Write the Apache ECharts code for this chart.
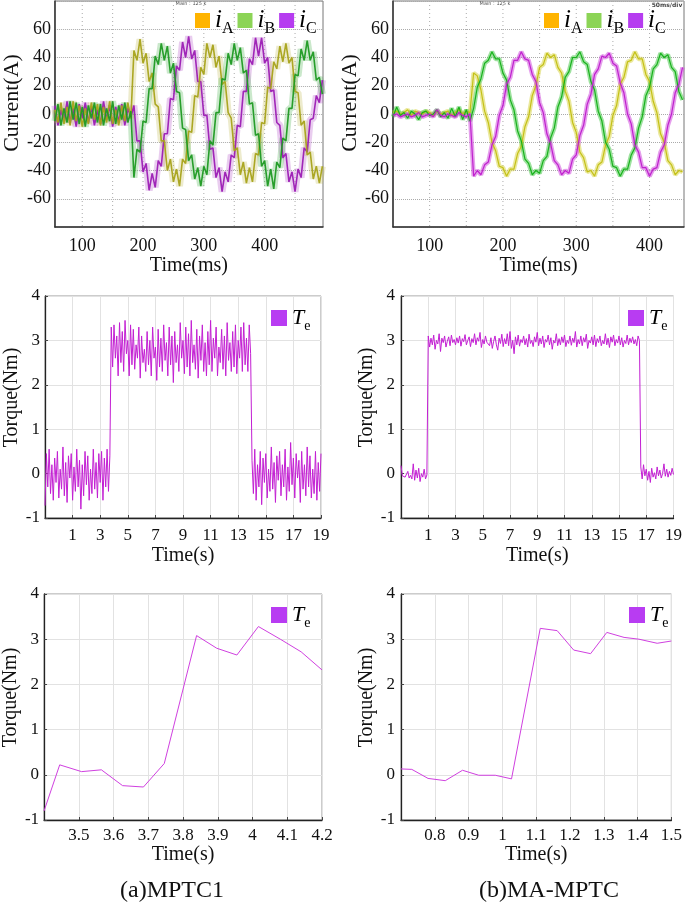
<!DOCTYPE html>
<html><head><meta charset="utf-8">
<script src="https://cdn.jsdelivr.net/npm/echarts@6/dist/echarts.min.js"></script>
<style>html,body{margin:0;padding:0;background:#fff}#c{width:685px;height:903px}</style>
</head><body><div id="c"></div>
<script>
const FONT = '"Liberation Serif", "Times New Roman", serif';

// ---------- (a) MPTC1 phase currents, sampled every 5 ms from 55 ms ----------
const timeStart1 = 55, timeStep1 = 5;
const iA1 = [3,-6,8,-7,5,-8,9,-5,6,-9,4,-7,8,-4,7,-8,5,-6,9,-7,3,-8,6,-5,8,-3,
  45,38,53,36,43,23,29,7,5,-19,-19,-40,-32,-48,-39,-51,-32,-35,-12,-13,13,12,33,28,50,40,49,33,41,21,
  23,1,-3,-26,-24,-43,-34,-49,-38,-48,-28,-29,-6,-7,19,18,37,32,48,37,50,36,40,16,15,-8,-5,-29,-27,-46,-37,-49,-37];
const iB1 = [-5,7,-8,4,-6,9,-4,8,-7,5,-9,6,-3,8,-6,7,-8,4,-5,9,-7,6,-4,8,-6,2,
  -45,-25,-27,-5,-6,18,18,41,35,50,38,48,29,36,16,15,-10,-11,-33,-29,-46,-38,-51,-37,-43,-19,-22,1,1,25,
  24,43,35,50,38,47,29,31,7,8,-15,-14,-37,-33,-51,-39,-53,-34,-38,-17,-19,4,4,28,27,46,38,52,38,44,24,26,14];
const iC1 = [6,-8,3,-5,9,-6,4,-9,7,-3,8,-6,5,-8,3,-7,9,-4,6,-9,5,-6,7,-8,4,-2,
  6,-19,-19,-41,-35,-54,-42,-52,-33,-37,-14,-14,11,10,34,31,51,40,55,39,45,23,23,-1,-1,-25,-24,-45,-38,-55,
  -41,-48,-29,-31,-8,-9,16,16,39,35,54,41,54,36,40,16,17,-6,-8,-31,-28,-48,-41,-55,-39,-45,-24,-27,-4,-3,13,8,24];

// ---------- (b) MA-MPTC phase currents, sampled every 5 ms from 50 ms ----------
const timeStart2 = 50, timeStep2 = 5;
const iA2 = [1,2,0,1,3,-1,2,1,0,2,1,-1,2,0,1,2,-1,1,3,0,2,1,
  29,27,17,2,-6,-20,-26,-37,-38,-44,-39,-39,-28,-23,-9,-2,13,20,33,35,43,40,42,33,29,16,9,-6,-13,-27,
  -31,-41,-40,-44,-36,-34,-22,-16,-1,6,21,26,37,38,44,39,39,28,23,9,1,-14,-20,-33,-36,-43,-40,-41];
const iB2 = [-2,5,-1,1,-3,2,0,-4,1,2,-1,0,3,-2,1,-3,4,-2,5,-4,3,-5,
  4,19,25,36,38,44,39,39,29,24,10,3,-12,-19,-32,-35,-43,-40,-42,-33,-30,-17,-10,5,12,26,30,40,40,44,
  37,35,23,17,2,-5,-20,-25,-37,-38,-44,-39,-39,-29,-24,-10,-2,13,19,32,35,43,40,42,33,30,16,10];
const iC2 = [-1,0,-2,-1,0,-2,-1,1,-2,-1,0,-2,3,-1,-2,0,-1,-2,1,-1,-2,0,
  -44,-40,-43,-36,-34,-22,-16,-1,6,21,26,38,38,44,39,38,28,23,8,1,-14,-21,-33,-36,-43,-40,-42,-32,-29,-15,
  -8,7,14,28,32,41,40,43,36,34,22,15,0,-7,-22,-27,-38,-38,-44,-39,-38,-27,-22,-8,0,15,21,33];

// ---------- torque, long run, sampled every 0.1 s from -1 s ----------
const timeStart3 = -1, timeStep3 = 0.1;
const te3 = [-0.72,0.45,-0.3,0.55,-0.45,0.2,-0.6,0.35,-0.2,0.5,-0.55,0.1,-0.35,0.6,-0.5,0.25,-0.65,0.4,-0.1,0.45,
  -0.6,0.15,-0.4,0.55,-0.3,0.3,-0.8,0.2,-0.5,0.5,-0.25,0.4,-0.6,0.1,-0.45,0.55,-0.35,0.25,-0.55,0.45,
  -0.2,0.5,-0.6,0.35,-0.3,0.55,-0.4,0.4,
  3.3,2.4,3.35,2.6,3.1,2.2,3.4,2.5,3.2,2.3,3.45,2.7,3.0,2.2,3.35,2.45,3.25,2.35,2.9,2.6,
  3.3,2.15,3.1,2.5,2.8,2.3,3.2,2.45,3.0,2.2,3.3,2.6,2.85,2.1,3.25,2.4,3.05,2.3,3.35,2.55,
  2.95,2.2,3.3,2.45,3.1,2.05,3.2,2.5,2.9,2.3,3.4,2.6,3.0,2.25,3.3,2.4,3.15,2.2,3.45,2.5,
  2.9,2.35,3.25,2.15,3.1,2.55,3.35,2.3,2.95,2.2,3.2,2.45,3.45,2.3,3.05,2.6,3.3,2.2,2.85,2.5,
  3.25,2.35,3.1,2.2,3.4,2.55,2.95,2.3,3.2,2.4,3.35,2.25,3.0,2.6,3.3,2.3,3.4,2.45,3.05,2.3,3.35,2.7,
  0.3,-0.45,0.55,-0.6,0.2,-0.3,0.5,-0.7,0.35,-0.2,0.45,-0.55,0.1,-0.4,0.6,-0.35,0.25,-0.65,0.4,-0.15,
  0.5,-0.5,0.2,-0.3,0.55,-0.6,0.15,-0.4,0.7,-0.25,0.35,-0.55,0.45,-0.1,0.3,-0.65,0.5,-0.35,0.2,-0.5,
  0.6,-0.3,0.4,-0.55,0.1,-0.45,0.5,-0.6,0.25,-0.4,0.45];
const te4 = [0.18,-0.05,-0.02,-0.08,-0.06,0.05,-0.1,-0.04,-0.12,0.22,-0.15,0.08,-0.1,0.12,-0.18,0.0,-0.08,0.1,-0.12,-0.03,
  3.1,2.85,3.05,2.9,3.12,2.8,3.0,2.92,3.15,2.75,3.05,2.95,3.1,2.85,2.98,3.08,2.88,3.12,2.95,3.02,
  2.9,3.06,2.94,3.1,2.87,3.04,2.97,3.13,2.9,3.0,3.08,2.86,3.04,2.95,3.15,2.9,3.06,2.98,3.18,2.84,
  3.02,2.92,3.1,2.96,3.0,2.88,3.06,2.82,2.98,3.1,2.9,2.78,3.05,2.93,3.14,2.86,3.04,2.92,3.15,2.88,
  3.2,2.82,3.0,2.7,3.08,2.9,3.12,2.87,3.02,2.95,3.1,2.9,3.04,2.85,3.14,2.93,3.0,2.86,3.08,2.96,
  3.18,2.88,3.05,2.92,3.1,2.84,3.02,2.96,3.12,2.9,3.06,2.8,3.0,2.94,3.15,2.88,3.04,2.9,3.08,2.95,
  3.12,2.86,3.0,2.93,3.1,2.89,3.05,2.95,3.2,2.85,3.02,2.92,3.1,2.88,3.06,2.96,3.14,2.82,3.0,2.94,
  3.08,2.9,3.12,2.86,3.04,2.95,3.1,2.88,3.0,2.92,3.15,2.9,3.05,2.84,3.08,2.96,3.12,2.88,3.02,2.94,
  3.1,2.9,3.06,2.85,3.0,2.93,3.12,2.9,3.05,2.95,3.08,2.92,3.02,2.88,3.1,3.0,
  0.15,-0.12,0.2,-0.05,0.1,-0.15,0.05,-0.2,0.12,-0.08,0.02,-0.12,0.15,-0.05,0.08,-0.1,0.0,0.22,-0.06,0.1,
  -0.08,0.05,-0.04,0.12,-0.02];

// ---------- torque, zoomed transient ----------
const t5 = [3.40,3.445,3.508,3.565,3.626,3.686,3.746,3.839,3.897,3.955,4.017,4.08,4.14,4.2];
const te5 = [-0.80,0.22,0.07,0.11,-0.24,-0.27,0.25,3.08,2.80,2.65,3.28,3.0,2.72,2.32];
const t6 = [0.70,0.732,0.780,0.831,0.882,0.930,0.979,1.027,1.112,1.162,1.211,1.261,1.309,1.360,1.404,1.458,1.5];
const te6 = [0.13,0.12,-0.08,-0.13,0.10,-0.01,-0.01,-0.09,3.24,3.19,2.76,2.68,3.15,3.04,3.00,2.91,2.96];

// tick labels and oscilloscope divisions
const curTicks1 = [100,200,300,400];
const curDivs1 = [100,150,200,250,300,350,400,450];
const curTicks2 = [100,200,300,400];
const curDivs2 = [100,150,200,250,300,350,400];
const captions = ['(a)MPTC1','(b)MA-MPTC'];

function times(start, step, n){ const a=[]; for(let i=0;i<n;i++) a.push(+(start+i*step).toFixed(4)); return a; }
function zip(xs, ys){ return ys.map((y,i)=>[xs[i], y]); }

const time1 = times(timeStart1, timeStep1, iA1.length);
const time2 = times(timeStart2, timeStep2, iA2.length);
const time3 = times(timeStart3, timeStep3, te3.length);
const time4 = times(timeStart3, timeStep3, te4.length);

const legendColors = {iA:'#FFB400', iB:'#8CD456', iC:'#B63CF0', Te:'#B83CF2'};
const rich = {
  i:{fontFamily:FONT, fontStyle:'italic', fontSize:25, color:'#000', verticalAlign:'top'},
  s:{fontFamily:FONT, fontSize:16, color:'#000', verticalAlign:'top', padding:[13,0,0,0]}
};
const richT = {
  i:{fontFamily:FONT, fontStyle:'italic', fontSize:22, color:'#000', verticalAlign:'top'},
  s:{fontFamily:FONT, fontSize:14, color:'#000', verticalAlign:'top', padding:[12,0,0,0]}
};
function fmt(name){ return '{i|' + name.charAt(0) + '}{s|' + name.charAt(1) + '}'; }

function curLegend(left){
  return {left:left, top:8, padding:0, itemWidth:15, itemHeight:15, itemGap:4, icon:'rect',
    selectedMode:false, formatter:fmt, textStyle:{rich:rich, padding:[4,0,0,0]},
    data:['iA','iB','iC'].map(n=>({name:n, itemStyle:{color:legendColors[n]}}))};
}
function teLegend(left, top){
  return {left:left, top:top, padding:0, itemWidth:16, itemHeight:16, icon:'rect',
    selectedMode:false, formatter:fmt, textStyle:{rich:richT, padding:[4,0,0,0]},
    data:[{name:'Te', itemStyle:{color:legendColors.Te}}]};
}

const nameStyle = (size, pad) => ({fontFamily:FONT, fontSize:size, color:'#111', padding:pad||0});
const lblStyle = (size, margin) => ({fontFamily:FONT, fontSize:size, color:'#111', margin:margin});

function curX(gi, min, max, ticks){
  return {gridIndex:gi, type:'value', min:min, max:max, name:'Time(ms)', nameLocation:'middle', nameGap:25,
    nameTextStyle:nameStyle(20),
    axisLine:{show:true, onZero:false, lineStyle:{color:'#333', width:1.5}},
    axisTick:{show:false},
    axisLabel:Object.assign(lblStyle(18,10), {customValues:ticks}),
    splitLine:{show:false}};
}
function curY(gi, gap){
  return {gridIndex:gi, type:'value', min:-80, max:80, interval:20, name:'Current(A)', nameLocation:'middle', nameGap:gap,
    nameTextStyle:nameStyle(22,[0,0,0,22]),
    axisLine:{show:true, onZero:false, lineStyle:{color:'#333', width:1.5}},
    axisTick:{show:false},
    axisLabel:Object.assign(lblStyle(18,4), {formatter:v=>Math.abs(v)===80?'':String(v)}),
    splitLine:{show:true, lineStyle:{type:'dotted', color:'#aaa'}}};
}
function teX(gi, min, max, interval, gap, margin){
  return {gridIndex:gi, type:'value', min:min, max:max, interval:interval, name:'Time(s)', nameLocation:'middle', nameGap:gap,
    nameTextStyle:nameStyle(20),
    axisLine:{show:true, onZero:false, lineStyle:{color:'#222', width:1.3}},
    axisTick:{show:true, inside:true, length:3, lineStyle:{color:'#444'}},
    axisLabel:Object.assign(lblStyle(17,margin), {showMinLabel:false, showMaxLabel:true}),
    splitLine:{show:true, lineStyle:{color:'#e2e2e2'}}};
}
function teY(gi, gap, margin){
  return {gridIndex:gi, type:'value', min:-1, max:4, interval:1, name:'Torque(Nm)', nameLocation:'middle', nameGap:gap,
    nameTextStyle:nameStyle(20,[0,0,0,19]),
    axisLine:{show:true, onZero:false, lineStyle:{color:'#222', width:1.3}},
    axisTick:{show:true, inside:true, length:3, lineStyle:{color:'#444'}},
    axisLabel:lblStyle(17,margin),
    splitLine:{show:true, lineStyle:{color:'#e2e2e2'}}};
}

function line(name, idx, data, color, width, legendColor, opacity, z){
  return {type:'line', name:name, xAxisIndex:idx, yAxisIndex:idx, data:data, symbol:'none', silent:true, z:z||3,
    animation:false, lineStyle:{color:color, width:width, opacity:opacity||1}, itemStyle:{color:legendColor}};
}
// oscilloscope vertical divisions, positioned through the x axis scale
function divLines(idx, divs){
  return {type:'custom', name:'divisions', xAxisIndex:idx, yAxisIndex:idx, silent:true, z:1, animation:false,
    data:divs.map(v=>[v]), encode:{x:0},
    renderItem:function(params, api){
      const top = api.coord([api.value(0), 80]);
      const bot = api.coord([api.value(0), -80]);
      return {type:'line', shape:{x1:top[0], y1:top[1], x2:bot[0], y2:bot[1]},
        style:{stroke:'#aaa', lineWidth:1, lineDash:[1,3]}};
    }};
}

const option = {
  animation:false,
  backgroundColor:'#fff',
  grid:[
    {left:43, top:1, width:280, height:226, show:true, borderColor:'#777', borderWidth:1},
    {left:393, top:1, width:291, height:226, show:true, borderColor:'#777', borderWidth:1},
    {left:45, top:296, width:276, height:222, show:true, borderColor:'#999', borderWidth:1},
    {left:401, top:296, width:275, height:222, show:true, borderColor:'#999', borderWidth:1},
    {left:44, top:594, width:278, height:226, show:true, borderColor:'#999', borderWidth:1},
    {left:401, top:594, width:275, height:226, show:true, borderColor:'#999', borderWidth:1}
  ],
  xAxis:[
    curX(0, 55, 496, curTicks1),
    curX(1, 50, 447, curTicks2),
    teX(2, -1, 19, 2, 28, 9),
    teX(3, -1, 19, 2, 28, 9),
    teX(4, 3.4, 4.2, 0.1, 24, 7),
    teX(5, 0.7, 1.5, 0.1, 24, 7)
  ],
  yAxis:[
    curY(0, 19), curY(1, 21),
    teY(2, 20, 5), teY(3, 20, 6), teY(4, 19, 5), teY(5, 20, 6)
  ],
  legend:[
    curLegend(195), curLegend(544),
    teLegend(271, 307), teLegend(628, 307), teLegend(271, 604), teLegend(629, 604)
  ],
  series:[
    divLines(0, curDivs1),
    divLines(1, curDivs2),
    // soft halo under each noisy current trace (same data) to render the fuzz band
    line('iC halo', 0, zip(time1, iC1), '#B04CC6', 7, legendColors.iC, 0.28, 2),
    line('iA halo', 0, zip(time1, iA1), '#BDB84A', 7, legendColors.iA, 0.28, 2),
    line('iB halo', 0, zip(time1, iB1), '#3FAE43', 7, legendColors.iB, 0.28, 2),
    line('iC', 0, zip(time1, iC1), '#9C1CB4', 1.6, legendColors.iC, 0.95),
    line('iA', 0, zip(time1, iA1), '#A8A31A', 1.6, legendColors.iA, 0.95),
    line('iB', 0, zip(time1, iB1), '#1E9A22', 1.6, legendColors.iB, 0.95),
    line('iA halo', 1, zip(time2, iA2), '#D8D54A', 4.5, legendColors.iA, 0.55, 2),
    line('iB halo', 1, zip(time2, iB2), '#4CC84F', 4.5, legendColors.iB, 0.55, 2),
    line('iC halo', 1, zip(time2, iC2), '#D050DC', 4.5, legendColors.iC, 0.55, 2),
    line('iA', 1, zip(time2, iA2), '#C2BF10', 1.2, legendColors.iA, 0.95),
    line('iB', 1, zip(time2, iB2), '#12B016', 1.2, legendColors.iB, 0.95),
    line('iC', 1, zip(time2, iC2), '#BE1ACC', 1.2, legendColors.iC, 0.95),
    line('Te', 2, zip(time3, te3), '#C31FD3', 1, legendColors.Te),
    line('Te', 3, zip(time4, te4), '#C31FD3', 1, legendColors.Te),
    line('Te', 4, zip(t5, te5), '#D040E0', 1, legendColors.Te),
    line('Te', 5, zip(t6, te6), '#D040E0', 1, legendColors.Te)
  ],
  graphic:[
    {type:'text', x:191, y:4, style:{text:'Main : 125 k', fontSize:5, fontFamily:'DejaVu Sans', fill:'#555', align:'center', verticalAlign:'middle'}},
    {type:'text', x:495, y:4, style:{text:'Main : 125 k', fontSize:5, fontFamily:'DejaVu Sans', fill:'#555', align:'center', verticalAlign:'middle'}},
    {type:'text', x:667, y:5, style:{text:'50ms/div', fontSize:6, fontWeight:'bold', fontFamily:'DejaVu Sans', fill:'#444', align:'center', verticalAlign:'middle'}},
    {type:'text', x:172, y:891, style:{text:captions[0], fontSize:24, fontFamily:FONT, fill:'#111', align:'center', verticalAlign:'middle'}},
    {type:'text', x:549, y:891, style:{text:captions[1], fontSize:24, fontFamily:FONT, fill:'#111', align:'center', verticalAlign:'middle'}}
  ]
};
const chart = echarts.init(document.getElementById('c'), null, {renderer:'canvas'});
chart.setOption(option);
</script></body></html>
